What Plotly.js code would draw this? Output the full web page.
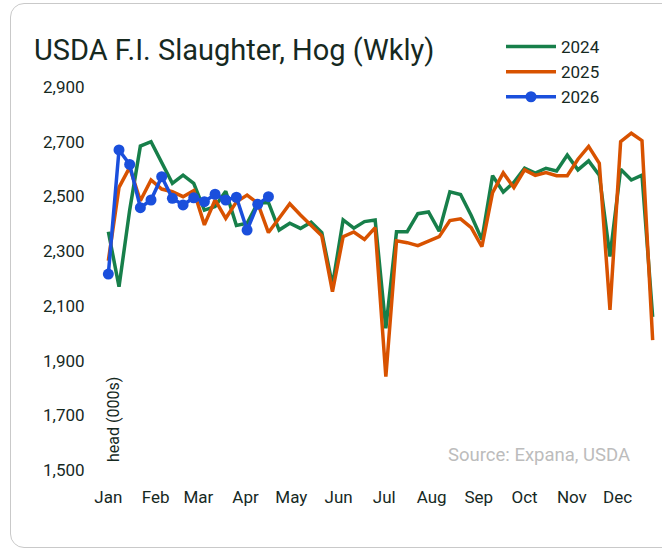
<!DOCTYPE html>
<html>
<head>
<meta charset="utf-8">
<script src="https://cdn.plot.ly/plotly-3.0.1.min.js"></script>
<style>
  html, body { margin: 0; padding: 0; overflow: hidden; background: #ffffff; }
  #chart { width: 662px; height: 552px; position: absolute; left: 0; top: 0; }
  #frame { position: absolute; left: 10px; top: 3px; width: 720px; height: 543px;
           border: 1px solid #c9c9c9; border-radius: 14px; pointer-events: none; }
</style>
</head>
<body>
<div id="chart"></div>
<div id="frame"></div>
<script>
// ---- data (weekly, thousand head) ----
const seriesNames = ["2024", "2025", "2026"];
const monthLabels = ["Jan","Feb","Mar","Apr","May","Jun","Jul","Aug","Sep","Oct","Nov","Dec"];
const yTicks = [1500, 1700, 1900, 2100, 2300, 2500, 2700, 2900];

const y2024 = [2371, 2170, 2450, 2684, 2700, 2627, 2548, 2578, 2548, 2450, 2463, 2519, 2394, 2402, 2476, 2478,
               2377, 2402, 2383, 2406, 2368, 2175, 2414, 2384, 2408, 2414, 2018, 2371, 2371, 2437, 2443, 2373,
               2517, 2507, 2430, 2342, 2576, 2516, 2552, 2603, 2585, 2603, 2593, 2651, 2597, 2630, 2578, 2280,
               2599, 2560, 2578, 2060];
const y2025 = [2265, 2533, 2606, 2484, 2560, 2527, 2517, 2499, 2521, 2396, 2487, 2420, 2480, 2505, 2475, 2368,
               2420, 2473, 2432, 2396, 2356, 2152, 2353, 2370, 2343, 2386, 1841, 2338, 2331, 2320, 2338, 2353,
               2412, 2418, 2386, 2316, 2514, 2586, 2532, 2597, 2577, 2587, 2576, 2576, 2636, 2683, 2621, 2085,
               2700, 2731, 2704, 1975];
const y2026 = [2216, 2670, 2617, 2459, 2487, 2572, 2493, 2469, 2495, 2481, 2508, 2487, 2497, 2377, 2471, 2499];

// week dates on a common (non-leap) calendar year so months line up
const DAY = 86400000;
const base = Date.UTC(2023, 0, 1);
const weekDate = i => new Date(base + i * 7 * DAY).toISOString().slice(0, 10);
const x52 = y2024.map((_, i) => weekDate(i));
const x2026 = y2026.map((_, i) => weekDate(i));

const txt = "#16291f";
const font = "Roboto, 'Liberation Sans', sans-serif";

const traces = [
  { x: x52, y: y2024, name: seriesNames[0], type: "scatter", mode: "lines",
    line: { color: "#177f4a", width: 3.5 } },
  { x: x52, y: y2025, name: seriesNames[1], type: "scatter", mode: "lines",
    line: { color: "#d85200", width: 3.5 } },
  { x: x2026, y: y2026, name: seriesNames[2], type: "scatter", mode: "lines+markers",
    line: { color: "#1a4fdc", width: 3.5 }, marker: { color: "#1a4fdc", size: 11 }, cliponaxis: false }
];

const layout = {
  width: 662, height: 552,
  paper_bgcolor: "rgba(0,0,0,0)", plot_bgcolor: "#ffffff",
  margin: { l: 103, r: 4, t: 87, b: 82, autoexpand: false },
  font: { family: font, color: txt, size: 17 },
  title: { text: "USDA F.I. Slaughter, Hog (Wkly)", font: { family: font, size: 29, color: txt },
           xref: "container", x: 34 / 662, xanchor: "left", yref: "container", y: 1 - 50 / 552, yanchor: "middle" },
  showlegend: true,
  legend: { xref: "container", yref: "container", x: 501 / 662, y: 1 - 29 / 552, xanchor: "left", yanchor: "top",
            font: { family: font, size: 17, color: txt }, bgcolor: "rgba(0,0,0,0)", itemwidth: 50, tracegroupgap: 0 },
  xaxis: {
    type: "date",
    range: [new Date(base - 3.5 * DAY).toISOString(), new Date(base + (357 + 3.5) * DAY).toISOString()],
    tickmode: "array",
    tickvals: monthLabels.map((_, m) => new Date(Date.UTC(2023, m, 1)).toISOString().slice(0, 10)),
    ticktext: monthLabels,
    tickangle: 0,
    showgrid: false, zeroline: false, showline: false,
    ticks: "outside", ticklen: 12, tickcolor: "rgba(0,0,0,0)",
    tickfont: { family: font, size: 17, color: txt }
  },
  yaxis: {
    range: [1500, 2900],
    tickvals: yTicks, tickformat: ",d",
    showgrid: false, zeroline: false, showline: false,
    ticks: "outside", ticklen: 14, tickcolor: "rgba(0,0,0,0)",
    tickfont: { family: font, size: 17, color: txt }
  },
  annotations: [
    { text: "head (000s)", xref: "paper", yref: "paper", x: 10 / 555, y: 50 / 383, xanchor: "center", yanchor: "middle",
      textangle: -90, showarrow: false, font: { family: font, size: 16, color: txt } },
    { text: "Source: Expana, USDA", xref: "paper", yref: "paper", x: 529 / 555, y: 15 / 383, xanchor: "right", yanchor: "middle",
      showarrow: false, font: { family: font, size: 18.5, color: "#bcbcbc" } }
  ]
};

Plotly.newPlot("chart", traces, layout, { displayModeBar: false, staticPlot: true });
</script>
</body>
</html>
